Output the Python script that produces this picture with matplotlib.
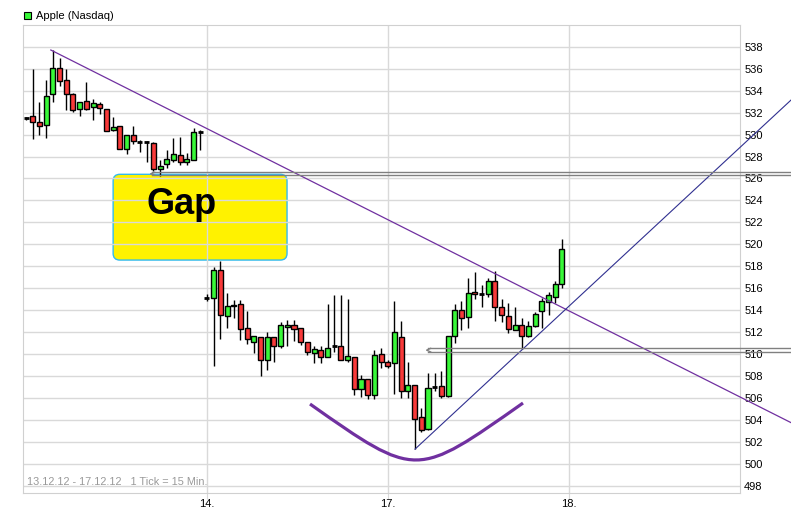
import matplotlib
matplotlib.use("Agg")
from matplotlib import pyplot as plt
from matplotlib.patches import FancyBboxPatch, PathPatch, Rectangle
from matplotlib.path import Path

plt.rcParams['font.family'] = ['Liberation Sans', 'DejaVu Sans']

# 15-minute candles, 13.12. / 14.12. / 17.12.2012 (27 ticks per day)
opens = [531.5, 531.7, 531.1, 530.9, 533.7, 536.1, 535.0, 533.7, 532.3, 533.1, 532.5, 532.8, 532.3, 530.4,
         530.8, 528.7, 530.0, 529.35, 529.3, 529.2, 526.9, 527.3, 527.7, 528.1, 527.5, 527.7, 530.2,
         515.14, 515.1, 517.66, 513.5, 514.35, 514.6, 512.4, 511.1, 511.6, 509.5, 511.6, 510.7, 512.5, 512.7,
         512.4, 511.1, 510.1, 510.4, 509.7, 510.7, 510.7, 509.5, 509.7, 506.8, 507.7, 506.3, 510.0,
         509.3, 509.2, 511.6, 506.6, 507.2, 504.3, 503.2, 507.0, 507.1, 506.2, 511.7, 514.0, 513.35, 515.65,
         515.5, 515.5, 516.7, 514.3, 513.5, 512.2, 512.7, 511.65, 512.55, 513.9, 514.75, 515.25, 516.4]
closes = [531.5, 531.1, 530.8, 533.5, 536.1, 534.9, 533.7, 532.2, 533.0, 532.3, 532.9, 532.4, 530.3, 530.7,
          528.7, 530.0, 529.4, 529.35, 529.3, 526.9, 527.1, 527.8, 528.2, 527.5, 527.8, 530.2, 530.2,
          515.14, 517.66, 513.6, 514.4, 514.5, 512.3, 511.35, 511.7, 509.5, 511.6, 510.7, 512.7, 512.7, 512.3,
          511.1, 510.2, 510.5, 509.7, 510.6, 510.7, 509.5, 509.8, 506.8, 507.7, 506.3, 509.9, 509.3,
          508.9, 512.05, 506.6, 507.15, 504.1, 503.1, 506.9, 507.0, 506.2, 511.7, 514.0, 513.3, 515.55, 515.5,
          515.5, 516.7, 514.3, 513.55, 512.3, 512.7, 511.7, 512.55, 513.7, 514.8, 515.4, 516.4, 519.6]
highs = [531.6, 536.0, 533.0, 535.0, 537.7, 537.0, 536.0, 533.8, 533.0, 534.8, 533.2, 533.0, 532.3, 531.6,
         530.8, 530.0, 530.8, 529.5, 529.4, 529.35, 527.7, 528.6, 529.7, 529.8, 528.3, 530.6, 530.4,
         515.5, 517.9, 518.5, 515.6, 514.9, 514.9, 513.9, 511.7, 511.6, 512.0, 511.6, 512.9, 513.1, 513.1,
         512.4, 511.1, 510.7, 510.7, 514.6, 515.4, 515.4, 515.0, 509.7, 508.1, 507.7, 510.4, 510.6,
         509.5, 514.85, 513.0, 509.3, 507.2, 505.1, 508.25, 508.25, 508.5, 511.7, 514.6, 514.8, 516.9, 517.5,
         516.3, 516.9, 517.6, 515.05, 514.7, 514.3, 513.3, 513.0, 513.8, 515.15, 515.7, 516.7, 520.5]
lows = [531.3, 529.6, 530.0, 529.7, 533.0, 534.4, 532.2, 532.1, 531.7, 532.2, 531.3, 531.9, 530.3, 530.3,
        528.7, 528.2, 529.1, 528.4, 527.5, 526.7, 526.2, 527.0, 527.5, 527.2, 527.2, 527.7, 528.6,
        514.8, 508.9, 511.35, 512.4, 513.3, 511.3, 510.9, 510.1, 508.0, 508.6, 509.3, 510.6, 510.7, 511.2,
        510.8, 509.9, 509.2, 509.2, 509.7, 510.2, 509.5, 509.3, 506.3, 506.1, 505.9, 505.9, 508.7,
        508.7, 506.35, 506.0, 506.0, 501.4, 502.9, 503.1, 506.6, 506.0, 506.1, 511.0, 512.2, 512.4, 515.0,
        514.3, 515.2, 513.05, 512.9, 511.9, 512.2, 510.5, 511.6, 512.5, 512.4, 513.6, 514.7, 516.0]

day_ticks = [27, 54, 81]
day_labels = ["14.", "17.", "18."]
y_ticks = list(range(498, 540, 2))

# drawn-in chart analysis
down_trend = ([3.7, 114.2], [537.7, 503.76])
up_trend = ([58.06, 114.2], [501.35, 533.15])
gap_upper = ([18.8, 114.2], [526.56, 526.29])
gap_lower = ([60.0, 114.2], [510.53, 510.2])
gap_box = (13.0, 518.57, 38.96, 526.38)
smile = [(42.39, 505.46), (58.36, 498.6), (58.2, 498.7), (74.18, 505.55)]

fig = plt.figure(figsize=(7.91, 5.14), dpi=100)
ax = fig.add_axes([0.0291, 0.0403, 0.9064, 0.9111])
ax.set_xlim(-0.45, 106.57)
ax.set_ylim(497.33, 539.98)

grid_c = "#d9d9d9"
for y in y_ticks:
    ax.axhline(y, color=grid_c, lw=1, zorder=1)
for x in day_ticks:
    ax.axvline(x, color=grid_c, lw=1, zorder=1)
for s in ax.spines.values():
    s.set_color("#d0d0d0")

# gap box
x0, y0, x1, y1 = gap_box
ax.add_patch(FancyBboxPatch((x0, y0), x1 - x0, y1 - y0,
                            boxstyle="round,pad=0,rounding_size=1.0", mutation_aspect=0.61,
                            facecolor="#fff200", edgecolor="#33bbee", lw=1, zorder=0.8))
ax.text((x0 + x1) / 2 - 2.7, 523.6, "Gap", fontsize=26, fontweight="bold", ha="center", va="center", zorder=2)

# candles
body_w = 0.75
for i in range(len(opens)):
    o, c, h, l = opens[i], closes[i], highs[i], lows[i]
    ax.vlines(i, l, h, color="black", lw=1, zorder=3)
    if abs(c - o) < 0.05:
        ax.hlines(o, i - body_w / 2, i + body_w / 2, color="black", lw=2, zorder=4)
    else:
        col = "#38f838" if c > o else "#f83a3a"
        ax.add_patch(Rectangle((i - body_w / 2, min(o, c)), body_w, abs(c - o),
                               facecolor=col, edgecolor="black", lw=1, zorder=4))

# lines (they run past the plot frame to the picture edge)
ax.plot(*down_trend, color="#7030a0", lw=0.9, clip_on=False, zorder=5)
ax.plot(*up_trend, color="#303090", lw=0.8, clip_on=False, zorder=5)
for xs, ys in (gap_upper, gap_lower):
    for yv in ys:
        ax.plot(xs, [yv, yv], color="#808080", lw=1, clip_on=False, zorder=5)
    ax.plot([xs[0] + 0.4, xs[0] - 0.2, xs[0] + 0.4], [ys[0], (ys[0] + ys[1]) / 2, ys[1]],
            color="#808080", lw=1, zorder=5)

codes = [Path.MOVETO, Path.CURVE4, Path.CURVE4, Path.CURVE4]
ax.add_patch(PathPatch(Path(smile, codes), facecolor="none", edgecolor="#7030a0", lw=2.3, zorder=5))

ax.yaxis.tick_right()
ax.set_yticks(y_ticks)
ax.set_yticklabels([str(v) for v in y_ticks])
ax.set_xticks(day_ticks)
ax.set_xticklabels(day_labels)
ax.tick_params(axis="y", length=0, pad=3, labelsize=8)
ax.tick_params(axis="x", length=4, color=grid_c, pad=0, labelsize=8)

ax.text(0.006, 0.013, "13.12.12 - 17.12.12   1 Tick = 15 Min.", transform=ax.transAxes,
        fontsize=7.8, color="#999999", va="bottom", ha="left")

fig.patches.append(Rectangle((24 / 791, 1 - 19 / 514), 7 / 791, 7 / 514, transform=fig.transFigure,
                             facecolor="#38f838", edgecolor="black", lw=0.8))
fig.text(36 / 791, 1 - 16 / 514, "Apple (Nasdaq)", fontsize=8, va="center", ha="left")

fig.savefig("out.png", dpi=100)
